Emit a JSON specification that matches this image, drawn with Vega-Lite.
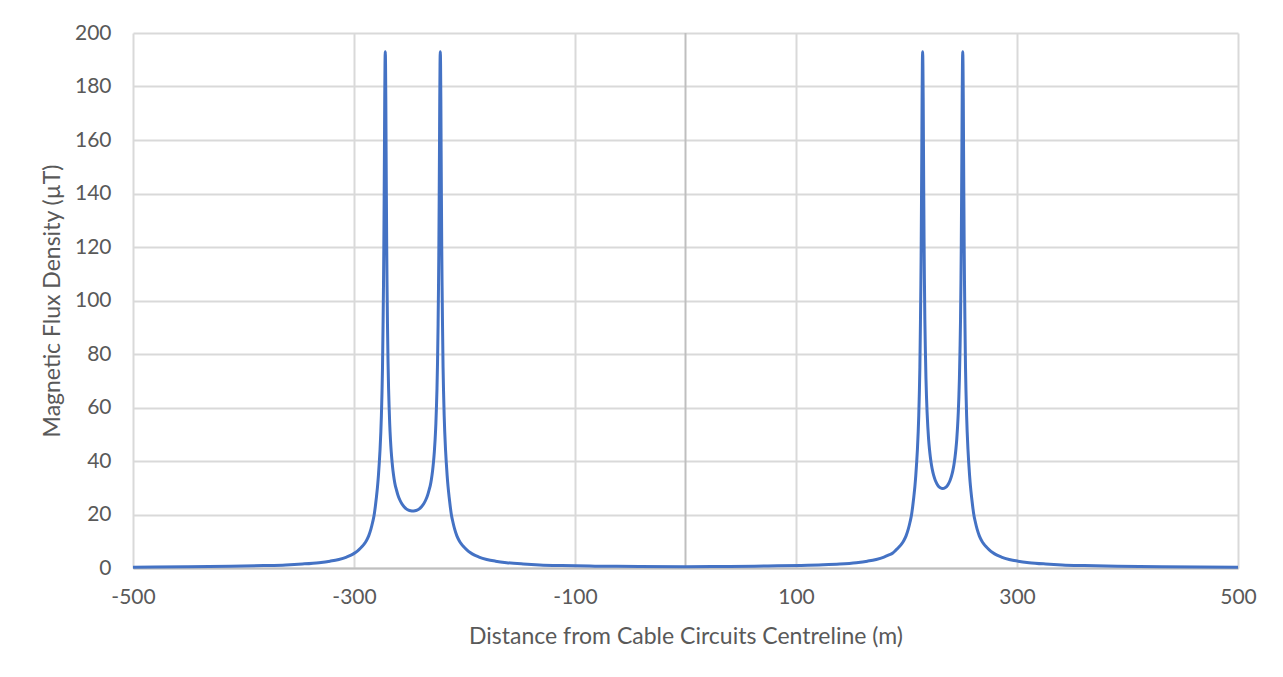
{
  "$schema": "https://vega.github.io/schema/vega-lite/v6.json",
  "width": 1105,
  "height": 535,
  "autosize": "none",
  "padding": {"left": 133, "top": 33, "right": 45, "bottom": 109},
  "background": "white",
  "config": {"view": {"stroke": null}, "font": "Lato"},
  "data": {"values": [
    {"x": -500, "y": 0.3}, {"x": -451.7, "y": 0.45}, {"x": -411.7, "y": 0.65}, {"x": -381.7, "y": 0.9},
    {"x": -361.7, "y": 1.15}, {"x": -346.7, "y": 1.5}, {"x": -331.7, "y": 2.0}, {"x": -321.7, "y": 2.55},
    {"x": -313.7, "y": 3.2}, {"x": -306.7, "y": 4.1}, {"x": -302.7, "y": 4.8}, {"x": -298.7, "y": 5.8},
    {"x": -295.7, "y": 6.8}, {"x": -292.7, "y": 8}, {"x": -290.7, "y": 9}, {"x": -288.7, "y": 10.3},
    {"x": -286.7, "y": 12}, {"x": -284.7, "y": 14.5}, {"x": -283.2, "y": 17}, {"x": -281.7, "y": 20},
    {"x": -280.7, "y": 23}, {"x": -279.7, "y": 26.5}, {"x": -278.7, "y": 30.5}, {"x": -277.9, "y": 34.5},
    {"x": -277.1, "y": 39.5}, {"x": -276.4, "y": 44.5}, {"x": -275.7, "y": 51}, {"x": -275.2, "y": 57},
    {"x": -274.7, "y": 65}, {"x": -274.2, "y": 75}, {"x": -273.7, "y": 91}, {"x": -273.3, "y": 106},
    {"x": -273.0, "y": 120}, {"x": -272.7, "y": 139}, {"x": -272.45, "y": 156}, {"x": -272.2, "y": 175},
    {"x": -271.95, "y": 188}, {"x": -271.7, "y": 193},
    {"x": -271.45, "y": 188}, {"x": -271.2, "y": 175}, {"x": -270.95, "y": 156}, {"x": -270.7, "y": 139},
    {"x": -270.4, "y": 120}, {"x": -270.1, "y": 106}, {"x": -269.7, "y": 91}, {"x": -269.2, "y": 77},
    {"x": -268.7, "y": 67}, {"x": -268.2, "y": 60}, {"x": -267.7, "y": 54}, {"x": -267.0, "y": 48},
    {"x": -266.3, "y": 43.4}, {"x": -265.5, "y": 39.5}, {"x": -264.7, "y": 36.3}, {"x": -263.7, "y": 33.3},
    {"x": -262.7, "y": 31}, {"x": -261.7, "y": 29.4}, {"x": -260.2, "y": 27.2}, {"x": -258.7, "y": 25.6},
    {"x": -256.7, "y": 24}, {"x": -254.7, "y": 22.9}, {"x": -252.7, "y": 22.1}, {"x": -250.7, "y": 21.65},
    {"x": -248.7, "y": 21.4}, {"x": -246.8, "y": 21.3},
    {"x": -244.9, "y": 21.4}, {"x": -242.9, "y": 21.65}, {"x": -240.9, "y": 22.1}, {"x": -238.9, "y": 22.9},
    {"x": -236.9, "y": 24}, {"x": -234.9, "y": 25.6}, {"x": -233.4, "y": 27.2}, {"x": -231.9, "y": 29.4},
    {"x": -230.9, "y": 31}, {"x": -229.9, "y": 33.3}, {"x": -228.9, "y": 36.3}, {"x": -228.1, "y": 39.5},
    {"x": -227.3, "y": 43.4}, {"x": -226.6, "y": 48}, {"x": -225.9, "y": 54}, {"x": -225.4, "y": 60},
    {"x": -224.9, "y": 67}, {"x": -224.4, "y": 77}, {"x": -223.9, "y": 91}, {"x": -223.5, "y": 106},
    {"x": -223.2, "y": 120}, {"x": -222.9, "y": 139}, {"x": -222.65, "y": 156}, {"x": -222.4, "y": 175},
    {"x": -222.15, "y": 188}, {"x": -221.9, "y": 193},
    {"x": -221.65, "y": 188}, {"x": -221.4, "y": 175}, {"x": -221.15, "y": 156}, {"x": -220.9, "y": 139},
    {"x": -220.6, "y": 120}, {"x": -220.3, "y": 106}, {"x": -219.9, "y": 91}, {"x": -219.4, "y": 75},
    {"x": -218.9, "y": 65}, {"x": -218.4, "y": 57}, {"x": -217.9, "y": 51}, {"x": -217.2, "y": 44.5},
    {"x": -216.5, "y": 39.5}, {"x": -215.7, "y": 34.5}, {"x": -214.9, "y": 30.5}, {"x": -213.9, "y": 26.5},
    {"x": -212.9, "y": 23}, {"x": -211.9, "y": 20}, {"x": -210.4, "y": 17}, {"x": -208.9, "y": 14.5},
    {"x": -206.9, "y": 12}, {"x": -204.9, "y": 10.3}, {"x": -202.9, "y": 9}, {"x": -200.9, "y": 8},
    {"x": -197.9, "y": 6.8}, {"x": -194.9, "y": 5.8}, {"x": -190.9, "y": 4.8}, {"x": -186.9, "y": 4.1},
    {"x": -179.9, "y": 3.2}, {"x": -171.9, "y": 2.55}, {"x": -161.9, "y": 2.0}, {"x": -146.9, "y": 1.5},
    {"x": -131.9, "y": 1.15}, {"x": -111.9, "y": 0.9}, {"x": -81.9, "y": 0.7}, {"x": -41.9, "y": 0.55},
    {"x": 0, "y": 0.5}, {"x": 40, "y": 0.55}, {"x": 74.6, "y": 0.75}, {"x": 104.6, "y": 0.95},
    {"x": 124.6, "y": 1.2}, {"x": 139.6, "y": 1.5}, {"x": 154.6, "y": 2.0}, {"x": 164.6, "y": 2.55},
    {"x": 172.6, "y": 3.2}, {"x": 179.6, "y": 4.1}, {"x": 183.6, "y": 4.8}, {"x": 187.6, "y": 5.6},
    {"x": 190.6, "y": 6.8}, {"x": 193.6, "y": 8}, {"x": 195.6, "y": 9}, {"x": 197.6, "y": 10.3},
    {"x": 199.6, "y": 12}, {"x": 201.6, "y": 14.5}, {"x": 203.1, "y": 17}, {"x": 204.6, "y": 20},
    {"x": 205.6, "y": 23}, {"x": 206.6, "y": 26.5}, {"x": 207.6, "y": 30.5}, {"x": 208.4, "y": 34.5},
    {"x": 209.2, "y": 39.5}, {"x": 209.9, "y": 44.5}, {"x": 210.6, "y": 51}, {"x": 211.1, "y": 57},
    {"x": 211.6, "y": 65}, {"x": 212.1, "y": 75}, {"x": 212.6, "y": 91}, {"x": 213.0, "y": 106},
    {"x": 213.3, "y": 120}, {"x": 213.6, "y": 139}, {"x": 213.85, "y": 156}, {"x": 214.1, "y": 175},
    {"x": 214.35, "y": 188}, {"x": 214.6, "y": 193},
    {"x": 214.85, "y": 188}, {"x": 215.1, "y": 176}, {"x": 215.35, "y": 158}, {"x": 215.6, "y": 141},
    {"x": 215.9, "y": 122}, {"x": 216.2, "y": 108}, {"x": 216.6, "y": 93}, {"x": 217.1, "y": 81},
    {"x": 217.6, "y": 71}, {"x": 218.1, "y": 64}, {"x": 218.6, "y": 58.5}, {"x": 219.3, "y": 52.7},
    {"x": 220.0, "y": 48.2}, {"x": 220.8, "y": 44.4}, {"x": 221.6, "y": 41.4}, {"x": 222.6, "y": 38.5},
    {"x": 223.6, "y": 36.3}, {"x": 224.6, "y": 34.6}, {"x": 226.1, "y": 32.7}, {"x": 227.6, "y": 31.4},
    {"x": 229.1, "y": 30.5}, {"x": 230.6, "y": 30.0}, {"x": 232.75, "y": 29.7},
    {"x": 234.9, "y": 30.0}, {"x": 236.4, "y": 30.5}, {"x": 237.9, "y": 31.4}, {"x": 239.4, "y": 32.7},
    {"x": 240.9, "y": 34.6}, {"x": 241.9, "y": 36.3}, {"x": 242.9, "y": 38.5}, {"x": 243.9, "y": 41.4},
    {"x": 244.7, "y": 44.4}, {"x": 245.5, "y": 48.2}, {"x": 246.2, "y": 52.7}, {"x": 246.9, "y": 58.5},
    {"x": 247.4, "y": 64}, {"x": 247.9, "y": 71}, {"x": 248.4, "y": 81}, {"x": 248.9, "y": 93},
    {"x": 249.3, "y": 108}, {"x": 249.6, "y": 122}, {"x": 249.9, "y": 141}, {"x": 250.15, "y": 158},
    {"x": 250.4, "y": 176}, {"x": 250.65, "y": 188}, {"x": 250.9, "y": 193},
    {"x": 251.15, "y": 188}, {"x": 251.4, "y": 175}, {"x": 251.65, "y": 156}, {"x": 251.9, "y": 139},
    {"x": 252.2, "y": 120}, {"x": 252.5, "y": 106}, {"x": 252.9, "y": 91}, {"x": 253.4, "y": 75},
    {"x": 253.9, "y": 65}, {"x": 254.4, "y": 57}, {"x": 254.9, "y": 51}, {"x": 255.6, "y": 44.5},
    {"x": 256.3, "y": 39.5}, {"x": 257.1, "y": 34.5}, {"x": 257.9, "y": 30.5}, {"x": 258.9, "y": 26.5},
    {"x": 259.9, "y": 23}, {"x": 260.9, "y": 20}, {"x": 262.4, "y": 17}, {"x": 263.9, "y": 14.5},
    {"x": 265.9, "y": 12}, {"x": 267.9, "y": 10.3}, {"x": 269.9, "y": 9}, {"x": 271.9, "y": 8},
    {"x": 274.9, "y": 6.8}, {"x": 277.9, "y": 5.8}, {"x": 281.9, "y": 4.8}, {"x": 285.9, "y": 4.1},
    {"x": 292.9, "y": 3.2}, {"x": 300.9, "y": 2.55}, {"x": 310.9, "y": 2.0}, {"x": 325.9, "y": 1.5},
    {"x": 340.9, "y": 1.15}, {"x": 360.9, "y": 0.9}, {"x": 390.9, "y": 0.65}, {"x": 430.9, "y": 0.45},
    {"x": 500, "y": 0.3}
  ]},
  "layer": [
    {
      "data": {"values": [{"x": 0}]},
      "mark": {"type": "rule", "color": "#bfbfbf", "strokeWidth": 2},
      "encoding": {"x": {"field": "x", "type": "quantitative"}}
    },
    {
      "mark": {"type": "line", "color": "#4472C4", "strokeWidth": 3, "interpolate": "monotone"},
      "encoding": {
        "x": {
          "field": "x", "type": "quantitative",
          "scale": {"domain": [-500, 500], "nice": false, "zero": false},
          "axis": {
            "values": [-500, -300, -100, 100, 300, 500],
            "labelExpr": "'' + datum.value",
            "labelFlush": false,
            "grid": true, "gridColor": "#d9d9d9", "gridWidth": 2,
            "domainColor": "#bfbfbf", "domainWidth": 2, "ticks": false,
            "labelFontSize": 21, "labelColor": "#595959", "labelPadding": 18,
            "title": "Distance from Cable Circuits Centreline (m)",
            "titleFontSize": 23, "titleFontWeight": "normal", "titleColor": "#595959", "titlePadding": 18
          }
        },
        "y": {
          "field": "y", "type": "quantitative",
          "scale": {"domain": [0, 200], "nice": false},
          "axis": {
            "values": [0, 20, 40, 60, 80, 100, 120, 140, 160, 180, 200],
            "labelExpr": "'' + datum.value",
            "grid": true, "gridColor": "#d9d9d9", "gridWidth": 2,
            "domain": false, "ticks": false,
            "labelFontSize": 21, "labelColor": "#595959", "labelPadding": 22,
            "title": "Magnetic Flux Density (µT)",
            "titleFontSize": 23, "titleFontWeight": "normal", "titleColor": "#595959", "titlePadding": 10
          }
        }
      }
    }
  ]
}
